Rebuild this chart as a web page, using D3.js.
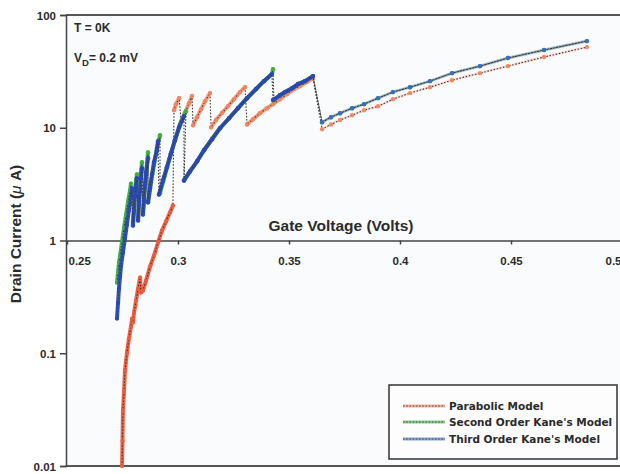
<!DOCTYPE html>
<html>
<head>
<meta charset="utf-8">
<script src="https://cdn.jsdelivr.net/npm/d3@7"></script>
<style>
  html, body { margin: 0; padding: 0; background: #ffffff; }
  svg text { font-family: "Liberation Sans", Arial, sans-serif; font-weight: bold; fill: #2b2b2b; }
</style>
</head>
<body>
<svg id="chart" width="620" height="474"></svg>
<script>
// ---------------- data (Gate Voltage V, Drain Current µA) ----------------
const xTickValues = [0.25, 0.3, 0.35, 0.4, 0.45, 0.5];
const xTickLabels = ["0.25", "0.3", "0.35", "0.4", "0.45", "0.5"];
const yTickValues = [0.01, 0.1, 1, 10, 100];
const yTickLabels = ["0.01", "0.1", "1", "10", "100"];
const seriesNames = ["Parabolic Model", "Second Order Kane's Model", "Third Order Kane's Model"];

// Parabolic model: list of continuous segments (jumps between them)
const parabolicSegments = [
  [[0.2748,0.0100],[0.2750,0.0167],[0.2752,0.0308],[0.2757,0.0464],[0.2761,0.0699],[0.2770,0.101],
   [0.2779,0.135],[0.2788,0.172],[0.2793,0.203],[0.2797,0.187],[0.2802,0.229],[0.2811,0.293],
   [0.2820,0.374],[0.2829,0.469],[0.2833,0.345],[0.2842,0.36],[0.2856,0.441],[0.2874,0.587],
   [0.2892,0.736],[0.2910,0.96],[0.2928,1.227],[0.2946,1.475],[0.2964,1.774],[0.2977,2.047]],
  [[0.2982,14.3],[0.2991,16.2],[0.3005,18.3]],
  [[0.3014,11.4],[0.3032,13.7],[0.3050,16.5],[0.3063,19.1]],
  [[0.3068,10.5],[0.3086,12.4],[0.3104,14.6],[0.3122,17.2],[0.3144,20.3]],
  [[0.3149,10.1],[0.3171,11.7],[0.3198,13.5],[0.3225,15.5],[0.3252,17.9],[0.3279,20.7],[0.3302,22.9]],
  [[0.3311,10.7],[0.3338,11.9],[0.3369,13.45],[0.3401,14.9],[0.3428,16.2],[0.3459,17.9],[0.3491,19.9],
   [0.3523,22.0],[0.3550,23.4],[0.3581,25.4],[0.3608,27.5]],
  [[0.3649,9.7],[0.3689,10.7],[0.3730,11.7],[0.3784,12.9],[0.3838,14.3],[0.3901,15.5],[0.3968,17.9],
   [0.4045,20.3],[0.4135,22.9],[0.4234,26.4],[0.4360,30.5],[0.4486,35.2],[0.4649,42.4],[0.4842,51.9]]
];

// Third order Kane's model
const thirdOrderSegments = [
  [[0.2725,0.203],[0.2730,0.281],[0.2734,0.374],[0.2739,0.479],[0.2743,0.587],[0.2752,0.782],
   [0.2761,1.042],[0.2770,1.388],[0.2779,1.848],[0.2788,2.36],[0.2793,2.90]],
  [[0.2797,1.36],[0.2802,1.848],[0.2806,2.46],[0.2811,3.08],[0.2815,3.56]],
  [[0.2820,1.506],[0.2824,2.09],[0.2829,2.78],[0.2833,3.56],[0.2838,4.37]],
  [[0.2842,1.703],[0.2847,2.27],[0.2851,3.08],[0.2856,4.02],[0.2865,5.36]],
  [[0.2865,2.18],[0.2874,2.90],[0.2883,3.86],[0.2892,4.94],[0.2905,6.31],[0.2910,7.59]],
  [[0.2914,2.56],[0.2932,3.41],[0.2950,4.46],[0.2968,5.93],[0.2986,7.74],[0.3005,10.1],[0.3027,12.66]],
  [[0.3027,3.41],[0.3054,4.10],[0.3086,5.04],[0.3117,6.31],[0.3153,7.90],[0.3189,9.90],[0.3230,12.14],
   [0.3270,14.9],[0.3311,18.3],[0.3351,22.0],[0.3387,25.9],[0.3423,29.9]],
  [[0.3428,17.6],[0.3459,19.4],[0.3482,20.7],[0.3514,22.4],[0.3541,24.4],[0.3572,25.9],[0.3608,28.7]],
  [[0.3649,11.2],[0.3689,12.4],[0.3730,13.45],[0.3784,14.9],[0.3838,16.2],[0.3901,18.3],[0.3968,20.7],
   [0.4045,22.9],[0.4135,25.9],[0.4234,30.5],[0.4360,35.2],[0.4486,41.5],[0.4649,48.9],[0.4842,58.7]]
];

// Second order Kane's model
const secondOrderSegments = [
  [[0.2725,0.423],[0.2730,0.53],[0.2734,0.637],[0.2739,0.736],[0.2748,0.98],[0.2757,1.305],
   [0.2766,1.703],[0.2775,2.22],[0.2784,2.78],[0.2788,3.21]],
  [[0.2797,1.445],[0.2802,2.047],[0.2806,2.78],[0.2811,3.41],[0.2815,3.86]],
  [[0.2820,1.57],[0.2824,2.27],[0.2829,3.08],[0.2833,4.02],[0.2838,4.94]],
  [[0.2842,1.774],[0.2847,2.46],[0.2856,3.78],[0.2865,6.05]],
  [[0.2865,2.18],[0.2878,3.28],[0.2892,4.74],[0.2905,6.58],[0.2919,8.58]],
  [[0.2919,2.62],[0.2941,3.78],[0.2964,5.47],[0.2986,7.74],[0.3009,10.74],[0.3036,14.0]],
  [[0.3027,3.41],[0.3054,4.10],[0.3086,5.04],[0.3117,6.31],[0.3153,7.90],[0.3189,9.90],[0.3230,12.14],
   [0.3270,14.9],[0.3311,18.3],[0.3351,22.0],[0.3387,25.9],[0.3423,29.9],[0.3428,33.1]],
  [[0.3432,17.6],[0.3459,19.4],[0.3482,20.7],[0.3514,22.4],[0.3541,24.4],[0.3572,25.9],[0.3608,28.7]],
  [[0.3649,11.2],[0.3689,12.4],[0.3730,13.45],[0.3784,14.9],[0.3838,16.2],[0.3901,18.3],[0.3968,20.7],
   [0.4045,22.9],[0.4135,25.9],[0.4234,30.5],[0.4360,35.2],[0.4486,41.5],[0.4649,48.9],[0.4842,58.7]]
];

const seriesColors = ["#f25a3a", "#3cb043", "#2a49b8"];
const markerColors = ["#f5845f", "#3cb043", "#3a6cc8"];

// ---------------- layout ----------------
const svg = d3.select("#chart");
const mLeft = 67, mRight = 622, mTop = 15, mBottom = 466;

const x = d3.scaleLinear().domain([0.25, 0.5]).range([mLeft, mRight]);
const y = d3.scaleLog().domain([0.01, 100]).range([mBottom, mTop]);

// plot background
svg.append("rect").attr("x", mLeft).attr("y", mTop)
  .attr("width", 620 - mLeft).attr("height", mBottom - mTop)
  .attr("fill", "#fafbfc");

// frame top / bottom
svg.append("line").attr("x1", mLeft - 1).attr("x2", 620).attr("y1", mTop).attr("y2", mTop)
  .attr("stroke", "#555").attr("stroke-width", 2);
svg.append("line").attr("x1", mLeft - 1).attr("x2", 620).attr("y1", mBottom).attr("y2", mBottom)
  .attr("stroke", "#555").attr("stroke-width", 2);

// y axis
const yAxis = d3.axisLeft(y).tickValues(yTickValues)
  .tickFormat((d, i) => yTickLabels[i]).tickSize(6).tickPadding(4);
const gy = svg.append("g").attr("transform", `translate(${mLeft - 1},0)`).call(yAxis);
gy.select(".domain").attr("stroke", "#444").attr("stroke-width", 1.5);
gy.selectAll(".tick line").attr("stroke", "#444").attr("stroke-width", 1.5);
gy.selectAll(".tick text").style("font-size", "11.5px").style("font-weight", "bold")
  .attr("fill", "#333").attr("dy", "0.36em");

// x axis at I = 1
const xAxis = d3.axisBottom(x).tickValues(xTickValues)
  .tickFormat((d, i) => xTickLabels[i]).tickSize(4).tickPadding(12).tickSizeOuter(0);
const gx = svg.append("g").attr("transform", `translate(0,${y(1)})`).call(xAxis);
gx.select(".domain").attr("stroke", "#444").attr("stroke-width", 1.5);
gx.selectAll(".tick line").attr("stroke", "#444").attr("stroke-width", 1.5);
gx.selectAll(".tick text").style("font-size", "11.5px").style("font-weight", "bold").attr("fill", "#333");
gx.selectAll(".tick text").filter((d, i) => i === 0).attr("text-anchor", "start").attr("dx", 1);
gx.selectAll(".tick text").filter((d, i) => i === xTickValues.length - 1).attr("text-anchor", "end").attr("x", -1);

// ---------------- series ----------------
const plot = svg.append("g");
const line = d3.line().x(d => x(d[0])).y(d => y(d[1]));

function drawSeries(segs, color, mColor, midOpacity, rightMarkerColor) {
  const g = plot.append("g");
  // coloured body of each continuous segment (dense markers merge into a band,
  // the sparse last branch only shows a faint tint)
  segs.forEach((seg, si) => {
    const sparse = si === segs.length - 1;
    g.append("path").attr("d", line(seg))
      .attr("fill", "none").attr("stroke", si === 0 ? color : mColor)
      .attr("stroke-width", sparse ? 3 : 4)
      .attr("stroke-linecap", "round").attr("stroke-linejoin", "round")
      .attr("opacity", sparse ? 0.22 : (si === 0 ? 0.95 : midOpacity));
  });
  // dark dotted connector through all points (shows the jumps)
  g.append("path").attr("d", line(segs.flat()))
    .attr("fill", "none").attr("stroke", "#3a3a3a")
    .attr("stroke-width", 1.1).attr("stroke-dasharray", "1.6,1.6");
  // markers
  segs.forEach((seg, si) => {
    const fill = si === 0 ? color : (si === segs.length - 1 ? rightMarkerColor : mColor);
    g.append("g").selectAll("circle").data(seg).join("circle")
      .attr("cx", d => x(d[0])).attr("cy", d => y(d[1]))
      .attr("r", si === 0 ? 2 : 2.2).attr("fill", fill).attr("opacity", 0.95);
  });
}

drawSeries(parabolicSegments, seriesColors[0], markerColors[0], 0.8, markerColors[0]);
drawSeries(secondOrderSegments, seriesColors[1], markerColors[1], 0.95, markerColors[1]);
drawSeries(thirdOrderSegments, seriesColors[2], seriesColors[2], 0.95, markerColors[2]);

// ---------------- texts ----------------
svg.append("text").attr("x", 341).attr("y", 231).attr("text-anchor", "middle")
  .style("font-size", "15.5px").text("Gate Voltage (Volts)");

const yt = svg.append("text").attr("transform", "translate(21,234) rotate(-90)")
  .attr("text-anchor", "middle").style("font-size", "15.5px");
yt.append("tspan").text("Drain Current  (");
yt.append("tspan").style("font-style", "italic").style("font-weight", "normal").text("\u03bc");
yt.append("tspan").text(" A)");

svg.append("text").attr("x", 74).attr("y", 32).style("font-size", "12px").text("T = 0K");
const vd = svg.append("text").attr("x", 74).attr("y", 62).style("font-size", "12px");
vd.append("tspan").text("V");
vd.append("tspan").attr("dy", 4).style("font-size", "9.5px").text("D");
vd.append("tspan").attr("dy", -4).text("= 0.2 mV");

// ---------------- legend ----------------
const lg = svg.append("g");
lg.append("rect").attr("x", 389).attr("y", 385).attr("width", 228).attr("height", 74)
  .attr("fill", "#fdfdfd").attr("stroke", "#333").attr("stroke-width", 1.5);
const legendRows = [406, 422, 439];
seriesNames.forEach((name, i) => {
  const ry = legendRows[i];
  lg.append("line").attr("x1", 403).attr("x2", 445).attr("y1", ry).attr("y2", ry)
    .attr("stroke", markerColors[i]).attr("stroke-width", 3).attr("opacity", 0.6);
  lg.append("line").attr("x1", 403).attr("x2", 445).attr("y1", ry).attr("y2", ry)
    .attr("stroke", "#444").attr("stroke-width", 1).attr("stroke-dasharray", "1.6,1.6");
  lg.append("text").attr("x", 449).attr("y", ry + 4)
    .style("font-family", "'DejaVu Sans', Verdana, sans-serif")
    .style("font-size", "10.5px").text(name);
});
</script>
</body>
</html>
